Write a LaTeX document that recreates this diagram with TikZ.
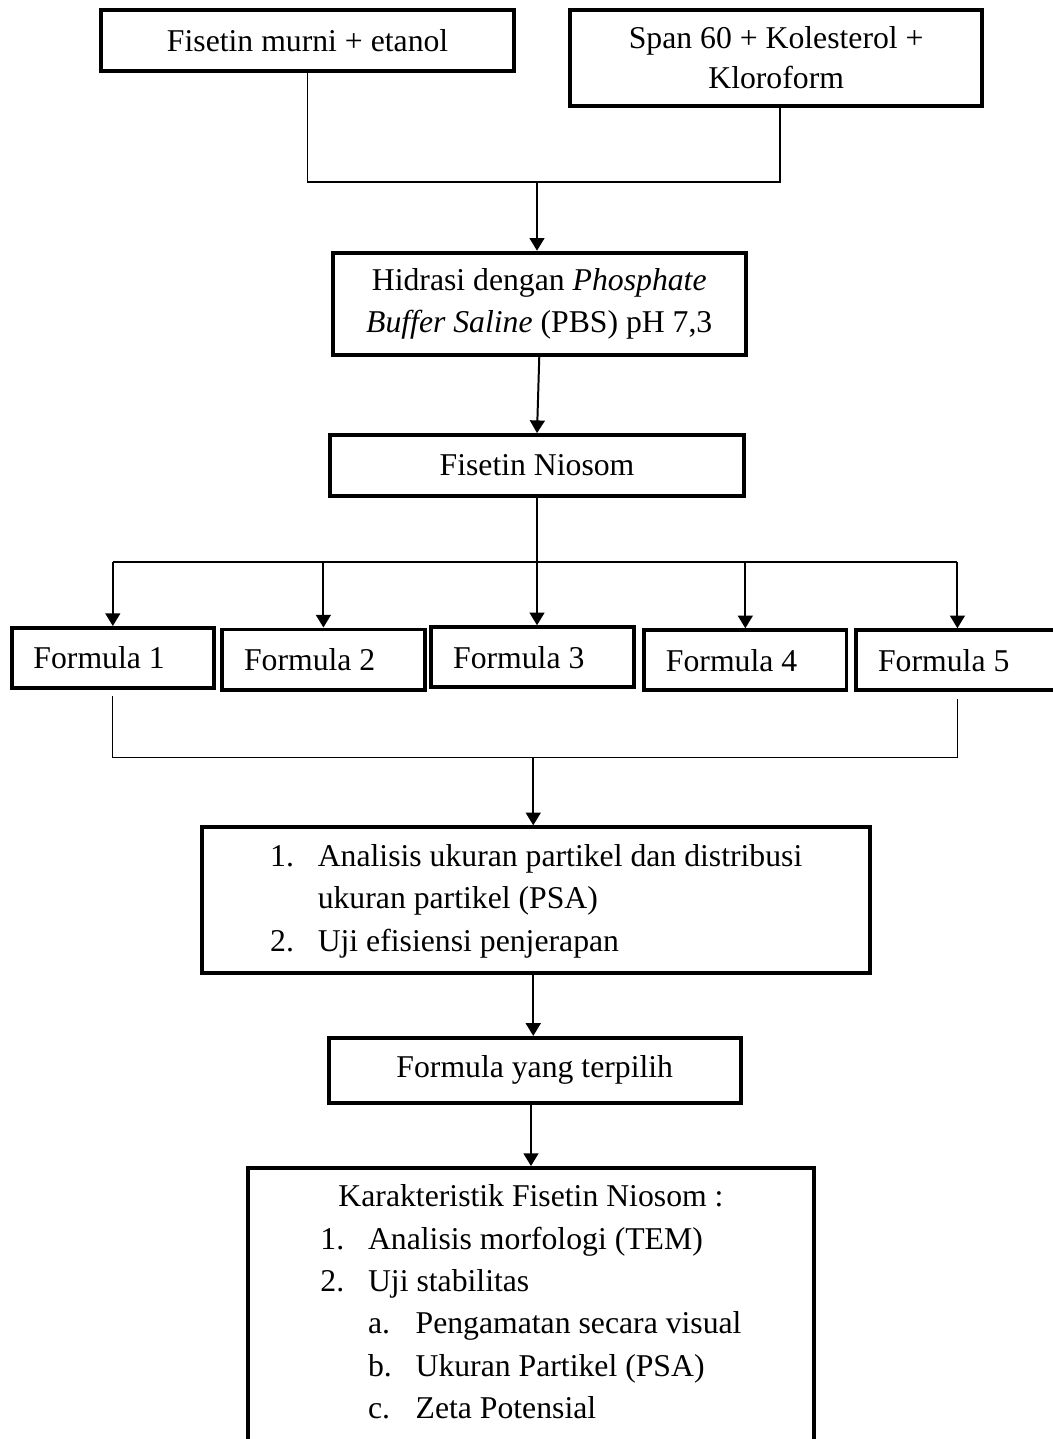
\documentclass[tikz,border=0pt]{standalone}
\usepackage{fontspec}
\setmainfont{Liberation Serif}
\usetikzlibrary{arrows.meta,positioning}

\tikzset{
  boxnode/.style={draw, line width=1.5pt, rectangle, align=center, inner sep=2pt,
    font=\fontsize{12}{16}\selectfont},
  formbox/.style={boxnode, text width=2.11cm, align=flush left, inner xsep=0.29cm,
    minimum height=0.80cm},
  flowarrow/.style={line width=0.75pt, -{Triangle[length=4.8pt,width=5.6pt]}},
  joinline/.style={line width=0.6pt},
}

\begin{document}
\begin{tikzpicture}
  \useasboundingbox (0,0) rectangle (14.0,-19.133);
  % ---------- starting materials ----------
  \node[boxnode, minimum width=5.49cm, minimum height=0.81cm] (fis) at (4.09,-0.54) {Fisetin murni + etanol};
  \node[boxnode, minimum width=5.48cm, minimum height=1.28cm, font=\fontsize{12}{15}\selectfont] (span) at (10.32,-0.77)
    {Span 60 + Kolesterol +\\Kloroform};
  \coordinate (tj) at (7.14,-2.42);
  \draw[joinline] (fis.south) -- (fis.south |- tj) -- ([xshift=1.5pt]span.south |- tj) -- ([xshift=1.5pt]span.south);
  % ---------- hydration ----------
  \node[boxnode, minimum width=5.49cm, minimum height=1.36cm] (hid) at (7.17,-4.04)
    {Hidrasi dengan \textit{Phosphate}\\\textit{Buffer Saline} (PBS) pH 7,3};
  \node[boxnode, minimum width=5.50cm, minimum height=0.81cm] (nio) at (7.14,-6.19) {Fisetin Niosom};
  \draw[flowarrow] (tj) -- (tj |- hid.north);
  \draw[flowarrow] (hid.south) -- (nio.north);
  % ---------- formulas ----------
  \node[formbox] (f1) at (1.50,-8.75) {Formula 1};
  \node[formbox] (f2) at (4.30,-8.77) {Formula 2};
  \node[formbox] (f3) at (7.08,-8.74) {Formula 3};
  \node[formbox] (f4) at (9.91,-8.78) {Formula 4};
  \node[formbox] (f5) at (12.73,-8.78) {Formula 5};
  \coordinate (sj) at (7.14,-7.47);
  \draw[joinline] (f1.north |- sj) -- (f5.north |- sj);
  \draw[flowarrow] (nio.south) -- (nio.south |- f3.north);
  \foreach \f in {f1,f2,f4,f5} {
    \draw[flowarrow] (\f.north |- sj) -- (\f.north);
  }
  \coordinate (bj) at (7.09,-10.07);
  \draw[line width=0.5pt] ([yshift=-2.3pt]f1.south) -- (f1.south |- bj) -- (f5.south |- bj) -- ([yshift=-2.3pt]f5.south);
  % ---------- analysis ----------
  \node[boxnode, minimum width=8.88cm, minimum height=1.94cm] (ana) at (7.13,-11.97)
    {\begin{tabular}{@{}p{18pt}@{}l@{}}
      1. & Analisis ukuran partikel dan distribusi\\
         & ukuran partikel (PSA)\\
      2. & Uji efisiensi penjerapan
    \end{tabular}};
  \draw[flowarrow] (bj) -- (bj |- ana.north);
  \node[boxnode, minimum width=5.48cm, minimum height=0.86cm] (pil) at (7.11,-14.23) {Formula yang terpilih};
  \draw[flowarrow] (bj |- ana.south) -- (bj |- pil.north);
  % ---------- characterisation ----------
  \node[boxnode, minimum width=7.53cm, minimum height=3.72cm] (kar) at (7.06,-17.39)
    {Karakteristik Fisetin Niosom :\\
    \begin{tabular}[t]{@{}p{18pt}@{}p{18pt}@{}l@{}}
      1. & \multicolumn{2}{@{}l@{}}{Analisis morfologi (TEM)}\\
      2. & \multicolumn{2}{@{}l@{}}{Uji stabilitas}\\
         & a. & Pengamatan secara visual\\
         & b. & Ukuran Partikel (PSA)\\
         & c. & Zeta Potensial
    \end{tabular}};
  \draw[flowarrow] (kar.north |- pil.south) -- (kar.north);
\end{tikzpicture}
\end{document}
